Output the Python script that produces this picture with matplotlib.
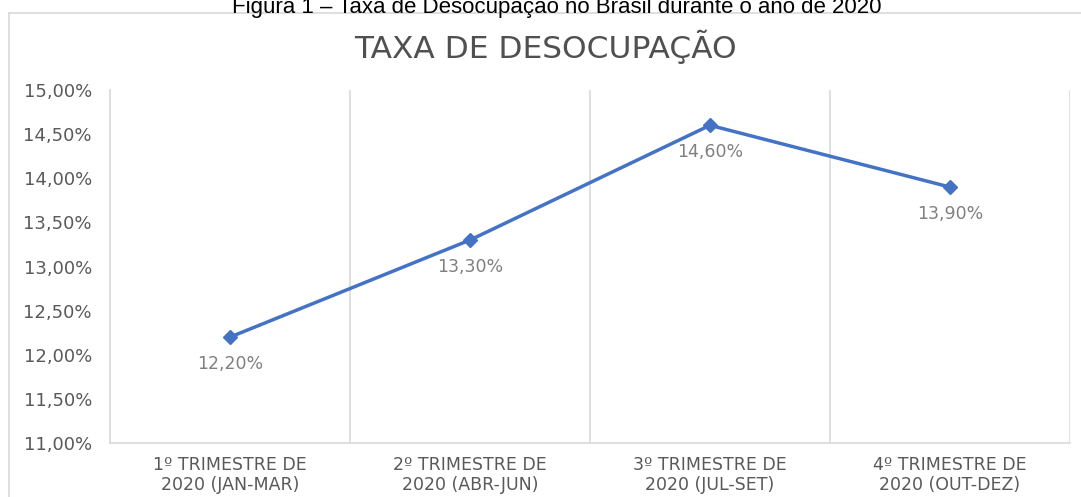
import matplotlib
matplotlib.use("Agg")
import matplotlib.pyplot as plt
from matplotlib.lines import Line2D
from matplotlib.ticker import FixedLocator, FuncFormatter

categories = ["1º TRIMESTRE DE\n2020 (JAN-MAR)", "2º TRIMESTRE DE\n2020 (ABR-JUN)",
              "3º TRIMESTRE DE\n2020 (JUL-SET)", "4º TRIMESTRE DE\n2020 (OUT-DEZ)"]
values = [12.20, 13.30, 14.60, 13.90]
yticks = [11.0, 11.5, 12.0, 12.5, 13.0, 13.5, 14.0, 14.5, 15.0]

W, H = 1081, 497
fig = plt.figure(figsize=(W / 100, H / 100), dpi=100)
fig.patch.set_facecolor("white")

# caption (partially cut at top, as in the reference)
fig.text(557 / W, 1 - 13 / H, "Figura 1 – Taxa de Desocupação no Brasil durante o ano de 2020",
         ha="center", va="baseline", fontsize=16, family="Liberation Sans", color="black")

# chart box border
fig.add_artist(Line2D([9 / W, 9 / W], [1 - 13 / H, 0], transform=fig.transFigure, color="#d9d9d9", lw=1.2))
fig.add_artist(Line2D([9 / W, 1], [1 - 13 / H, 1 - 13 / H], transform=fig.transFigure, color="#d9d9d9", lw=1.2))

fig.text(545 / W, 1 - 47 / H, "TAXA DE DESOCUPAÇÃO", ha="center", va="center",
         fontsize=22.5, family="DejaVu Sans", color="#505050", fontweight="normal")

left, right, top, bottom = 110, 1070, 90, 443
ax = fig.add_axes([left / W, 1 - bottom / H, (right - left) / W, (bottom - top) / H])
x = list(range(len(values)))
ax.plot(x, values, color="#4472C4", lw=2.5, marker="D", markersize=7, zorder=3)
ax.set_xlim(-0.5, len(values) - 0.5)
ax.set_ylim(11, 15)

ax.yaxis.set_major_locator(FixedLocator(yticks))
ax.yaxis.set_major_formatter(FuncFormatter(lambda v, p: f"{v:.2f}%".replace(".", ",")))
ax.set_xticks(x)
ax.set_xticklabels(categories, family="DejaVu Sans", fontsize=12.5, color="#595959", linespacing=1.15)
for t in ax.get_yticklabels():
    t.set_family("DejaVu Sans")
    t.set_fontsize(13)
    t.set_color("#595959")
ax.tick_params(axis="both", length=0)
ax.tick_params(axis="y", pad=13)
ax.tick_params(axis="x", pad=9)

for s in ["top", "right"]:
    ax.spines[s].set_visible(False)
for s in ["left", "bottom"]:
    ax.spines[s].set_color("#d9d9d9")
    ax.spines[s].set_linewidth(1.2)

for b in [0.5, 1.5, 2.5, 3.5]:
    ax.axvline(b, color="#d9d9d9", lw=1.2, zorder=1)

for xi, v in zip(x, values):
    ax.annotate(f"{v:.2f}%".replace(".", ","), (xi, v), xytext=(0, -13), textcoords="offset points",
                ha="center", va="top", fontsize=12.5, color="#808080", family="DejaVu Sans")

fig.savefig("out.png", dpi=100, facecolor="white")
